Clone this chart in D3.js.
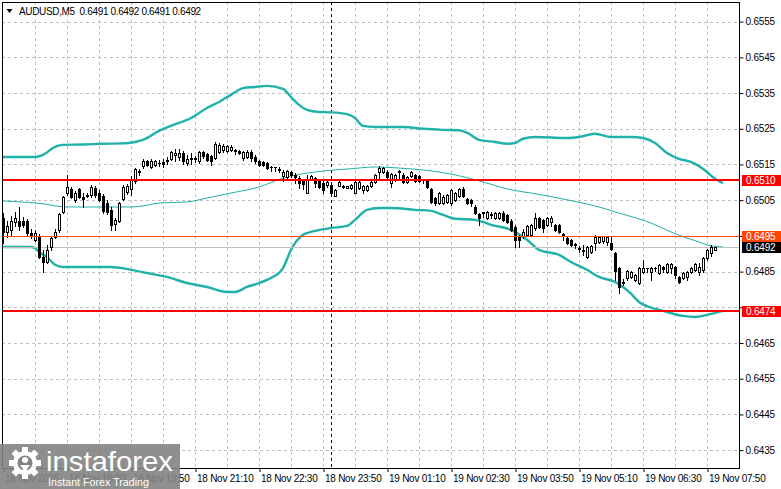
<!DOCTYPE html>
<html><head><meta charset="utf-8">
<script src="https://cdn.jsdelivr.net/npm/d3@7"></script>
<style>
body{margin:0;background:#fff;}
svg{display:block;font-family:"Liberation Sans",Arial,sans-serif;}
</style>
</head><body>
<svg id="chart" width="781" height="489"></svg>
<script>
// ---------------- DATA ----------------
const symbolTitle = "AUDUSD,M5";
const lastOHLC = ["0.6491", "0.6492", "0.6491", "0.6492"];

const opens = [
0.65000,0.64961,0.64967,0.64989,0.64992,0.64992,0.64992,0.64958,0.64939,0.64950,
0.64891,0.64877,0.64919,0.64947,0.64967,0.65017,0.65070,0.65082,0.65051,0.65082,
0.65059,0.65062,0.65065,0.65084,0.65070,0.65062,0.65042,0.65023,0.64984,0.64992,
0.65054,0.65073,0.65082,0.65104,0.65132,0.65146,0.65160,0.65143,0.65149,0.65154,
0.65157,0.65160,0.65166,0.65177,0.65171,0.65182,0.65154,0.65166,0.65168,0.65160,
0.65185,0.65180,0.65174,0.65168,0.65185,0.65191,0.65188,0.65191,0.65191,0.65188,
0.65168,0.65171,0.65185,0.65171,0.65160,0.65157,0.65154,0.65143,0.65143,0.65138,
0.65118,0.65115,0.65129,0.65121,0.65112,0.65104,0.65070,0.65110,0.65112,0.65107,
0.65098,0.65093,0.65093,0.65062,0.65090,0.65090,0.65084,0.65084,0.65070,0.65084,
0.65079,0.65079,0.65090,0.65101,0.65129,0.65129,0.65129,0.65098,0.65107,0.65132,
0.65121,0.65101,0.65118,0.65121,0.65118,0.65110,0.65107,0.65082,0.65056,0.65042,
0.65042,0.65045,0.65042,0.65051,0.65062,0.65082,0.65054,0.65051,0.65031,0.65012,
0.65017,0.65000,0.65009,0.65000,0.65000,0.65014,0.65009,0.64992,0.64975,0.64947,
0.64950,0.64953,0.64953,0.64972,0.65000,0.64995,0.64981,0.64989,0.64981,0.64981,
0.64956,0.64944,0.64939,0.64928,0.64916,0.64911,0.64891,0.64905,0.64930,0.64933,
0.64936,0.64933,0.64930,0.64902,0.64860,0.64818,0.64832,0.64835,0.64827,0.64818,
0.64849,0.64860,0.64849,0.64860,0.64846,0.64863,0.64849,0.64860,0.64863,0.64835,
0.64832,0.64835,0.64849,0.64855,0.64849,0.64855,0.64888,0.64902,0.64910];

const highs = [
0.65014,0.64992,0.65006,0.65017,0.65031,0.65003,0.64998,0.64970,0.64967,0.64956,
0.64911,0.64925,0.64950,0.64970,0.65014,0.65062,0.65121,0.65087,0.65076,0.65084,
0.65070,0.65070,0.65093,0.65090,0.65079,0.65068,0.65051,0.65031,0.65000,0.65045,
0.65093,0.65096,0.65118,0.65140,0.65138,0.65166,0.65163,0.65166,0.65163,0.65163,
0.65166,0.65171,0.65188,0.65194,0.65194,0.65188,0.65177,0.65182,0.65174,0.65188,
0.65188,0.65182,0.65177,0.65213,0.65210,0.65208,0.65205,0.65205,0.65194,0.65191,
0.65188,0.65191,0.65191,0.65177,0.65163,0.65160,0.65157,0.65146,0.65143,0.65143,
0.65135,0.65135,0.65132,0.65126,0.65118,0.65110,0.65121,0.65121,0.65115,0.65110,
0.65104,0.65104,0.65093,0.65082,0.65104,0.65093,0.65090,0.65096,0.65104,0.65104,
0.65093,0.65093,0.65104,0.65124,0.65146,0.65143,0.65135,0.65126,0.65124,0.65135,
0.65126,0.65118,0.65132,0.65124,0.65121,0.65110,0.65110,0.65084,0.65059,0.65073,
0.65065,0.65068,0.65082,0.65073,0.65084,0.65087,0.65056,0.65054,0.65037,0.65014,
0.65017,0.65020,0.65017,0.65017,0.65017,0.65020,0.65012,0.64998,0.64981,0.64953,
0.64970,0.64981,0.64984,0.65014,0.65003,0.64998,0.65003,0.65006,0.64984,0.64984,
0.64958,0.64950,0.64942,0.64930,0.64922,0.64925,0.64922,0.64925,0.64953,0.64950,
0.64950,0.64950,0.64947,0.64905,0.64863,0.64830,0.64855,0.64852,0.64844,0.64863,
0.64883,0.64860,0.64863,0.64863,0.64872,0.64866,0.64874,0.64874,0.64866,0.64838,
0.64849,0.64852,0.64863,0.64874,0.64874,0.64891,0.64914,0.64925,0.64920];

const lows = [
0.64930,0.64947,0.64950,0.64978,0.64967,0.64975,0.64953,0.64944,0.64936,0.64888,
0.64849,0.64874,0.64911,0.64944,0.64961,0.65014,0.65065,0.65056,0.65045,0.65056,
0.65031,0.65059,0.65059,0.65059,0.65048,0.65014,0.65012,0.64967,0.64967,0.64989,
0.65051,0.65068,0.65065,0.65098,0.65121,0.65140,0.65146,0.65140,0.65146,0.65146,
0.65143,0.65152,0.65163,0.65160,0.65163,0.65152,0.65149,0.65152,0.65157,0.65154,
0.65168,0.65160,0.65149,0.65166,0.65182,0.65185,0.65185,0.65188,0.65180,0.65180,
0.65163,0.65168,0.65160,0.65154,0.65146,0.65146,0.65138,0.65132,0.65132,0.65129,
0.65104,0.65112,0.65115,0.65098,0.65084,0.65082,0.65070,0.65107,0.65087,0.65084,
0.65070,0.65087,0.65068,0.65062,0.65090,0.65084,0.65084,0.65082,0.65070,0.65082,
0.65070,0.65076,0.65087,0.65098,0.65107,0.65126,0.65112,0.65087,0.65104,0.65107,
0.65098,0.65098,0.65115,0.65101,0.65101,0.65098,0.65084,0.65042,0.65037,0.65040,
0.65040,0.65042,0.65037,0.65048,0.65059,0.65059,0.65040,0.65034,0.65012,0.64981,
0.65003,0.64998,0.65000,0.64998,0.64998,0.64992,0.64986,0.64964,0.64919,0.64919,
0.64944,0.64950,0.64950,0.64967,0.64972,0.64961,0.64978,0.64978,0.64964,0.64958,
0.64939,0.64928,0.64922,0.64916,0.64905,0.64897,0.64888,0.64902,0.64911,0.64930,
0.64930,0.64925,0.64911,0.64827,0.64790,0.64813,0.64827,0.64832,0.64824,0.64816,
0.64846,0.64849,0.64827,0.64852,0.64844,0.64849,0.64846,0.64846,0.64832,0.64818,
0.64830,0.64827,0.64846,0.64852,0.64841,0.64849,0.64883,0.64894,0.64910];

const closes = [
0.64961,0.64978,0.64992,0.65000,0.64978,0.64981,0.64958,0.64950,0.64958,0.64891,
0.64877,0.64911,0.64944,0.64961,0.65012,0.65059,0.65087,0.65059,0.65070,0.65059,
0.65054,0.65065,0.65087,0.65065,0.65051,0.65020,0.65017,0.64981,0.64995,0.65042,
0.65087,0.65090,0.65107,0.65138,0.65129,0.65160,0.65149,0.65160,0.65160,0.65153,
0.65152,0.65163,0.65185,0.65182,0.65182,0.65160,0.65166,0.65168,0.65166,0.65185,
0.65174,0.65163,0.65160,0.65208,0.65205,0.65202,0.65202,0.65199,0.65188,0.65182,
0.65185,0.65185,0.65168,0.65160,0.65149,0.65148,0.65140,0.65142,0.65142,0.65135,
0.65129,0.65132,0.65121,0.65115,0.65098,0.65096,0.65110,0.65118,0.65098,0.65087,
0.65079,0.65101,0.65070,0.65079,0.65101,0.65087,0.65090,0.65093,0.65101,0.65101,
0.65090,0.65090,0.65101,0.65121,0.65140,0.65140,0.65115,0.65124,0.65121,0.65129,
0.65101,0.65115,0.65129,0.65104,0.65104,0.65108,0.65087,0.65045,0.65042,0.65070,
0.65059,0.65065,0.65079,0.65070,0.65082,0.65062,0.65042,0.65041,0.65014,0.65000,
0.65014,0.65017,0.65012,0.65014,0.65014,0.64995,0.64989,0.64967,0.64939,0.64939,
0.64961,0.64978,0.64981,0.65000,0.64975,0.64972,0.65000,0.65000,0.64967,0.64961,
0.64953,0.64930,0.64925,0.64925,0.64914,0.64908,0.64919,0.64922,0.64947,0.64947,
0.64950,0.64947,0.64914,0.64852,0.64807,0.64821,0.64852,0.64849,0.64841,0.64860,
0.64860,0.64859,0.64860,0.64859,0.64869,0.64858,0.64872,0.64872,0.64841,0.64821,
0.64846,0.64849,0.64860,0.64872,0.64863,0.64888,0.64911,0.64919,0.64920];

// Bollinger bands (bar index, price)
const upperIdx = [0,8,10,13,15,20,25,30,33,35,39,42,47,51,54,57,60,63,66,70,72,74,76,79,82,86,88,90,93,100,105,110,114,116,119,123,126,128,130,133,141,144,148,152,157,160,163,166,169,172,176,178,180];
const upperVal = [0.65171,0.65171,0.65177,0.65199,0.65205,0.65206,0.65208,0.65209,0.65213,0.65219,0.65244,0.65258,0.65280,0.65308,0.65325,0.65345,0.65364,0.65367,0.65370,0.65362,0.65339,0.65317,0.65303,0.65297,0.65296,0.65291,0.65280,0.65258,0.65255,0.65255,0.65250,0.65247,0.65246,0.65239,0.65219,0.65213,0.65208,0.65210,0.65222,0.65227,0.65224,0.65227,0.65236,0.65227,0.65227,0.65224,0.65210,0.65182,0.65166,0.65157,0.65129,0.65110,0.65098];
const midIdx = [0,8,10,13,16,25,32,35,39,46,51,57,64,70,78,87,93,99,107,113,120,127,132,141,149,154,162,168,174,177,180];
const midVal = [0.65048,0.65042,0.65040,0.65034,0.65031,0.65031,0.65031,0.65034,0.65042,0.65045,0.65056,0.65070,0.65087,0.65112,0.65129,0.65138,0.65143,0.65140,0.65132,0.65121,0.65101,0.65079,0.65070,0.65051,0.65031,0.65014,0.64986,0.64956,0.64933,0.64922,0.64919];
const lowerIdx = [0,7,8,9,11,13,15,27,32,36,41,46,51,56,58,61,64,67,70,72,75,77,82,86,88,91,94,97,103,107,110,113,118,122,127,131,134,139,142,146,149,153,155,157,159,162,165,170,173,176,180];
const lowerVal = [0.64919,0.64919,0.64916,0.64905,0.64891,0.64869,0.64863,0.64863,0.64855,0.64846,0.64835,0.64818,0.64807,0.64793,0.64793,0.64807,0.64818,0.64832,0.64860,0.64911,0.64953,0.64961,0.64972,0.64978,0.64995,0.65023,0.65028,0.65028,0.65023,0.65020,0.65009,0.64998,0.64995,0.64981,0.64967,0.64939,0.64911,0.64897,0.64877,0.64855,0.64835,0.64821,0.64807,0.64788,0.64765,0.64749,0.64740,0.64726,0.64723,0.64729,0.64740];

// Horizontal levels
const levelValues = [0.65107, 0.6495, 0.6474];
const levelLabels = ["0.6510", "0.6495", "0.6474"];
const bidValue = 0.6492;
const bidLabel = "0.6492";

// Axis ticks (grid lines at all; labels hidden where a price box covers them)
const priceTicks = [0.6555,0.6545,0.6535,0.6525,0.6515,0.6505,0.6495,0.6485,0.6475,0.6465,0.6455,0.6445,0.6435];
const hiddenPriceLabels = [0.6495, 0.6475];
const timeLabels = ["18 Nov 2025","18 Nov 18:30","18 Nov 19:50","18 Nov 21:10","18 Nov 22:30","18 Nov 23:50","19 Nov 01:10","19 Nov 02:30","19 Nov 03:50","19 Nov 05:10","19 Nov 06:30","19 Nov 07:50"];
const barsPerLabel = 16;
const barsPerGrid = 8;
const daySeparatorBar = 82; // 19 Nov 00:00

// ---------------- CHART ----------------
const svg = d3.select("#chart");
const L = 2, T = 2, R = 740, B = 468;
const x = d3.scaleLinear().domain([0, 180]).range([3, 723]);
const y = d3.scaleLinear().domain([0.64300, 0.65605]).range([B, T]);
const teal = "#20b2aa";

svg.append("rect").attr("width", 781).attr("height", 489).attr("fill", "#fff");
svg.append("defs").append("clipPath").attr("id", "clip")
  .append("rect").attr("x", L).attr("y", T).attr("width", R - L).attr("height", B - T);

const plot = svg.append("g").attr("clip-path", "url(#clip)");

// grid
const gridBars = d3.range(barsPerGrid, 180, barsPerGrid);
plot.selectAll(".vg").data(gridBars).join("line")
  .attr("x1", d => Math.round(x(d)) + 0.5).attr("x2", d => Math.round(x(d)) + 0.5)
  .attr("y1", T).attr("y2", B)
  .attr("stroke", "#c0c0c0").attr("stroke-dasharray", "3,3");
plot.selectAll(".hg").data(priceTicks).join("line")
  .attr("x1", L).attr("x2", R)
  .attr("y1", d => Math.round(y(d)) + 0.5).attr("y2", d => Math.round(y(d)) + 0.5)
  .attr("stroke", "#c0c0c0").attr("stroke-dasharray", "3,3");

// day separator
plot.append("line")
  .attr("x1", Math.round(x(daySeparatorBar)) + 0.5).attr("x2", Math.round(x(daySeparatorBar)) + 0.5)
  .attr("y1", T).attr("y2", B)
  .attr("stroke", "#000").attr("stroke-dasharray", "3,3");

// bands
const bandLine = d3.line().x(d => x(d[0])).y(d => y(d[1])).curve(d3.curveMonotoneX);
const zip = (a, b) => a.map((v, i) => [v, b[i]]);
plot.append("path").attr("d", bandLine(zip(upperIdx, upperVal)))
  .attr("fill", "none").attr("stroke", teal).attr("stroke-width", 2.4);
plot.append("path").attr("d", bandLine(zip(lowerIdx, lowerVal)))
  .attr("fill", "none").attr("stroke", teal).attr("stroke-width", 2.4);
plot.append("path").attr("d", bandLine(zip(midIdx, midVal)))
  .attr("fill", "none").attr("stroke", teal).attr("stroke-width", 1);

// bid line
plot.append("line").attr("x1", L).attr("x2", R)
  .attr("y1", Math.round(y(bidValue)) + 0.5).attr("y2", Math.round(y(bidValue)) + 0.5)
  .attr("stroke", "#c0c0c0");

// candles
const bars = opens.map((o, i) => ({i, o, h: highs[i], l: lows[i], c: closes[i]}));
const cg = plot.append("g");
bars.forEach(d => {
  const cx = Math.round(x(d.i));
  const yh = Math.round(y(d.h)), yl = Math.round(y(d.l));
  const yo = Math.round(y(d.o)), yc = Math.round(y(d.c));
  cg.append("line").attr("x1", cx + 0.5).attr("x2", cx + 0.5)
    .attr("y1", yh).attr("y2", yl + 1).attr("stroke", "#000");
  const top = Math.min(yo, yc), bot = Math.max(yo, yc);
  if (bot - top < 1) {
    cg.append("line").attr("x1", cx - 1).attr("x2", cx + 2)
      .attr("y1", top + 0.5).attr("y2", top + 0.5).attr("stroke", "#000");
  } else {
    cg.append("rect").attr("x", cx - 0.5).attr("y", top + 0.5)
      .attr("width", 2).attr("height", bot - top)
      .attr("fill", d.c >= d.o ? "#fff" : "#000").attr("stroke", "#000");
  }
});

// level lines
const levelColors = ["#ff0000", "#ff4500", "#ff0000"];
const levelWidths = [2, 1, 2];
levelValues.forEach((v, k) => {
  const yy = levelWidths[k] === 1 ? Math.round(y(v)) + 0.5 : Math.round(y(v));
  plot.append("line").attr("x1", L).attr("x2", R).attr("y1", yy).attr("y2", yy)
    .attr("stroke", levelColors[k]).attr("stroke-width", levelWidths[k]);
});

// frame
svg.append("rect").attr("x", L + 0.5).attr("y", T + 0.5).attr("width", R - L - 1).attr("height", B - T)
  .attr("fill", "none").attr("stroke", "#000");

// right price axis
const yAxis = d3.axisRight(y).tickValues(priceTicks).tickSize(4).tickPadding(2)
  .tickFormat(d => hiddenPriceLabels.includes(d) ? "" : d3.format(".4f")(d));
const ya = svg.append("g").attr("transform", `translate(${R - 0.5},0)`).call(yAxis);
ya.select(".domain").remove();
ya.selectAll(".tick line").attr("stroke", "#000");
ya.selectAll(".tick text").attr("fill", "#000").style("font-size", "10px")
  .style("font-family", '"Liberation Sans",Arial,sans-serif').style("letter-spacing", "-0.2px");

// bottom time axis
const tickBars = timeLabels.map((t, k) => k * barsPerLabel);
const xAxis = d3.axisBottom(x).tickValues(tickBars).tickSize(4).tickPadding(3)
  .tickFormat((d, k) => timeLabels[k]);
const xa = svg.append("g").attr("transform", `translate(0.5,${B})`).call(xAxis);
xa.select(".domain").remove();
xa.selectAll(".tick line").attr("stroke", "#000");
xa.selectAll(".tick text").attr("text-anchor", "start").attr("dx", "1")
  .attr("fill", "#000").style("font-size", "10px")
  .style("font-family", '"Liberation Sans",Arial,sans-serif').style("letter-spacing", "-0.25px");

// price label boxes
const boxColors = ["#ff0000", "#ff4500", "#ff0000"];
function priceBox(v, label, fill) {
  const yy = y(v);
  svg.append("rect").attr("x", 742).attr("y", Math.round(yy) - 5).attr("width", 39).attr("height", 11)
    .attr("fill", fill);
  svg.append("text").attr("x", 746).attr("y", Math.round(yy) + 4).text(label)
    .attr("fill", "#fff").style("font-size", "10px").style("letter-spacing", "-0.2px");
}
levelValues.forEach((v, k) => priceBox(v, levelLabels[k], boxColors[k]));
priceBox(bidValue, bidLabel, "#000");

// title
svg.append("path").attr("d", "M6.5,9 L12.5,9 L9.5,13 Z").attr("fill", "#000");
svg.append("text").attr("x", 19).attr("y", 15)
  .text(symbolTitle + "  " + lastOHLC.join(" "))
  .attr("fill", "#000").style("font-size", "10px").style("letter-spacing", "-0.35px")
  .attr("xml:space", "preserve");

// watermark
const wm = svg.append("g");
wm.append("rect").attr("x", 0).attr("y", 444).attr("width", 180).attr("height", 45)
  .attr("fill", "#838383").attr("opacity", 0.9);
const gear = wm.append("g").attr("transform", "translate(25,463)");
d3.range(8).forEach(k => {
  gear.append("rect").attr("x", -3).attr("y", -16).attr("width", 6).attr("height", 7)
    .attr("fill", "#fff").attr("transform", `rotate(${k * 45})`);
});
gear.append("circle").attr("r", 12).attr("fill", "#fff");
gear.append("circle").attr("r", 7.5).attr("fill", "#838383");
gear.append("circle").attr("cy", -3).attr("r", 3).attr("fill", "#fff");
gear.append("path").attr("d", "M-5,2 L5,2 L2,6 L2,13 L-2,13 L-2,6 Z").attr("fill", "#fff");
wm.append("text").attr("x", 46).attr("y", 471).text("instaforex")
  .attr("fill", "#fff").style("font-size", "28px").attr("textLength", 127).attr("lengthAdjust", "spacingAndGlyphs");
wm.append("text").attr("x", 48).attr("y", 486).text("Instant Forex Trading")
  .attr("fill", "#fff").style("font-size", "11px").attr("textLength", 101).attr("lengthAdjust", "spacingAndGlyphs");
</script>
</body></html>
